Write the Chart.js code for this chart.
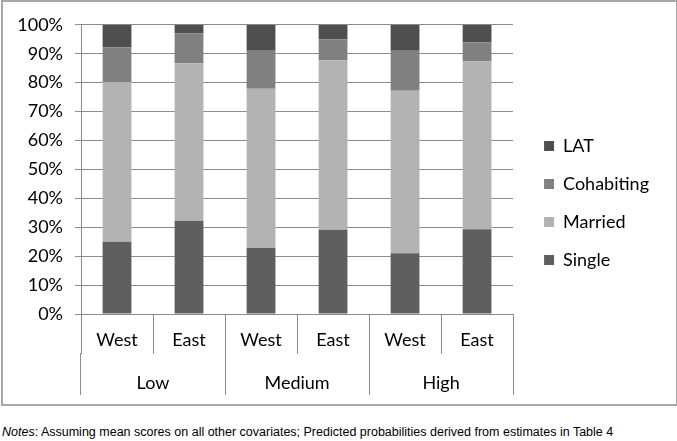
<!DOCTYPE html>
<html>
<head>
<meta charset="utf-8">
<script src="https://cdn.jsdelivr.net/npm/chart.js@4"></script>
<style>
  body { margin: 0; background: #fff; }
  #frame { position: absolute; left: 1px; top: 0; width: 673px; height: 402px; border: 2px solid #a8a8a8; }
  #notes { position: absolute; left: 2px; top: 425px; font: 12.5px "Liberation Sans", Arial, sans-serif; color: #000; white-space: nowrap; }
</style>
</head>
<body>
<div id="frame"><canvas id="chart" width="673" height="402"></canvas></div>
<div id="notes"><i>Notes</i>: Assuming mean scores on all other covariates; Predicted probabilities derived from estimates in Table 4</div>
<script>
// === DATA ===
const regions = ["West", "East", "West", "East", "West", "East"];
const groups = ["Low", "Medium", "High"];
const single = [25, 32.2, 22.8, 29.1, 21, 29.3];
const married = [55.2, 54.5, 55.1, 58.6, 56.2, 58];
const cohabiting = [12, 10.3, 13.1, 7.3, 13.8, 6.7];
const lat = [7.8, 3, 9, 5, 9, 6];

const font = { family: "Lato, Carlito, Calibri, sans-serif", size: 18 };
const gridColor = "#8c8c8c";
const legendShift = 11; // extra gap between plot and legend

const ctx = document.getElementById("chart").getContext("2d");

// move the legend right after layout, leaving the plot narrower
const legendGap = {
    id: "legendGap",
    afterLayout: chart => {
        chart.legend.left += legendShift;
        chart.legend.right += legendShift;
    }
};

new Chart(ctx, {
    type: "bar",
    data: {
        labels: regions,
        datasets: [
            { label: "Single", data: single, backgroundColor: "#5f5f5f" },
            { label: "Married", data: married, backgroundColor: "#b3b3b3" },
            { label: "Cohabiting", data: cohabiting, backgroundColor: "#808080" },
            { label: "LAT", data: lat, backgroundColor: "#4f4f4f" }
        ]
    },
    plugins: [legendGap],
    options: {
        responsive: false,
        animation: false,
        categoryPercentage: 1,
        barPercentage: 0.4,
        layout: { padding: { top: 0, left: 0, right: 17 + legendShift, bottom: 0 } },
        plugins: {
            tooltip: { enabled: false },
            legend: {
                position: "right",
                reverse: true,
                labels: { boxWidth: 10, boxHeight: 10, padding: 20, font: font, color: "#000" }
            }
        },
        scales: {
            x: {
                stacked: true,
                grid: { offset: true, drawOnChartArea: false, tickLength: 40, color: gridColor },
                border: { color: gridColor },
                ticks: { font: font, color: "#000", padding: -25 },
                afterFit: s => { s.height = 39; }
            },
            x2: {
                type: "category",
                labels: groups,
                position: "bottom",
                offset: true,
                grid: { offset: true, drawOnChartArea: false, tickLength: 42, color: gridColor },
                border: { display: false },
                ticks: { font: font, color: "#000", padding: -23 },
                afterFit: s => { s.height = 51; }
            },
            // empty top axis, only pushes the plot down
            xTop: {
                type: "category",
                labels: groups,
                position: "top",
                grid: { display: false },
                border: { display: false },
                ticks: { display: false },
                afterFit: s => { s.height = 21; }
            },
            y: {
                stacked: true,
                min: 0,
                max: 100,
                grid: { color: gridColor, tickLength: 6 },
                border: { color: gridColor },
                ticks: { stepSize: 10, font: font, color: "#000", padding: 12, callback: v => v + "%" },
                afterFit: s => { s.width = 78; }
            }
        }
    }
});
</script>
</body>
</html>
